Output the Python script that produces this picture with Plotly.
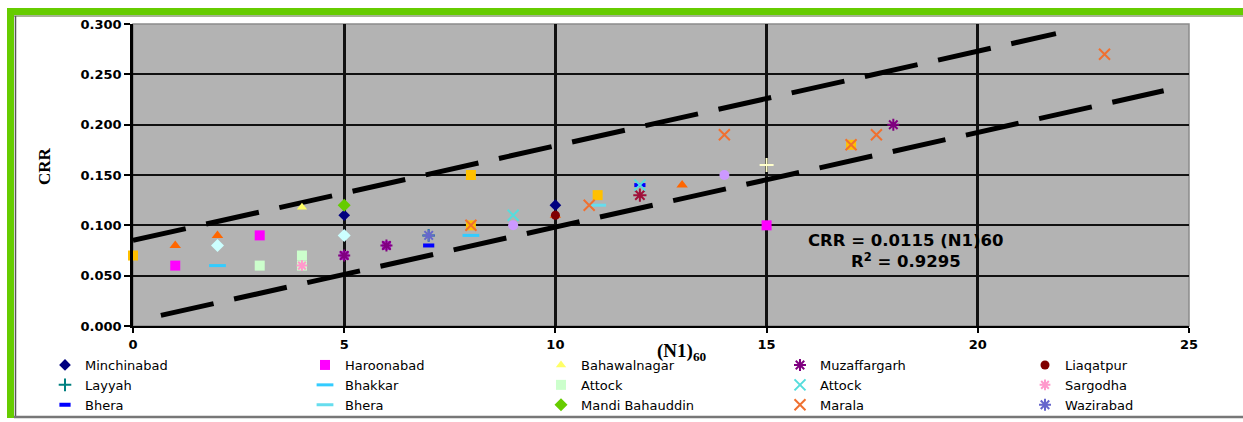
import plotly.graph_objects as go

# ---------------------------------------------------------------- data
# CRR against corrected SPT blow count (N1)60 for each site
minchinabad_x = [5, 10]
minchinabad_y = [0.110, 0.120]
haroonabad_x = [1, 3, 15]
haroonabad_y = [0.060, 0.090, 0.100]
bahawalnagar_x = [4]
bahawalnagar_y = [0.118]
muzaffargarh_x = [5, 6, 18]
muzaffargarh_y = [0.070, 0.080, 0.200]
liaqatpur_x = [10]
liaqatpur_y = [0.110]
layyah_x = [7]
layyah_y = [0.090]
bhakkar_x = [2, 8]
bhakkar_y = [0.060, 0.090]
attock_sq_x = [3, 4, 4]
attock_sq_y = [0.060, 0.070, 0.060]
attock_x_x = [9, 12]
attock_x_y = [0.110, 0.140]
sargodha_x = [4]
sargodha_y = [0.060]
bhera_a_x = [7, 12]
bhera_a_y = [0.080, 0.140]
bhera_b_x = [11]
bhera_b_y = [0.120]
mandi_x = [5]
mandi_y = [0.120]
marala_x = [8, 10.8, 14, 17, 17.6, 23]
marala_y = [0.100, 0.120, 0.190, 0.180, 0.190, 0.270]
wazirabad_x = [7]
wazirabad_y = [0.090]

# further sample groups plotted without legend entries
gold_x = [0, 8, 11, 17, 8]
gold_y = [0.070, 0.150, 0.130, 0.180, 0.100]
orange_tri_x = [1, 2, 10, 13]
orange_tri_y = [0.080, 0.090, 0.110, 0.140]
lavender_x = [9, 14]
lavender_y = [0.100, 0.150]
pale_plus_x = [15]
pale_plus_y = [0.160]
pale_diamond_x = [2, 5]
pale_diamond_y = [0.080, 0.090]
crimson_x = [12]
crimson_y = [0.130]
violet_sq_x = [5, 6]
violet_sq_y = [0.070, 0.080]

# bounding lines of the data band: y = slope * x + intercept
band_slope = 0.0094
upper_intercept = 0.085
upper_x_span = [0.0, 21.85]
lower_intercept = 0.0043
lower_x_span = [0.66, 24.4]

x_ticks = [0, 5, 10, 15, 20, 25]
y_ticks = [0.000, 0.050, 0.100, 0.150, 0.200, 0.250, 0.300]

eq_text = "CRR = 0.0115 (N1)60<br>R<sup>2</sup> = 0.9295"

# ---------------------------------------------------------------- layout geometry
W, H = 1243, 422
PL, PR, PT, PB = 133, 1189, 24, 326


def fx(p):
    """pixel column -> plot-area paper fraction"""
    return (p - PL) / (PR - PL)


def fy(p):
    """pixel row -> plot-area paper fraction"""
    return (PB - p) / (PB - PT)


fig = go.Figure()

# band lines
for icpt, span in ((upper_intercept, upper_x_span), (lower_intercept, lower_x_span)):
    fig.add_trace(go.Scatter(
        x=span, y=[band_slope * v + icpt for v in span], mode="lines",
        line=dict(color="black", width=5, dash="54px,21px"),
        showlegend=False, hoverinfo="skip"))


def add_pts(x, y, color, symbol, size, name=None, legend=None, lw=0, lcolor=None):
    fig.add_trace(go.Scatter(
        x=x, y=y, mode="markers", name=name, cliponaxis=False,
        showlegend=legend is not None, legend=legend or "legend",
        marker=dict(color=color, symbol=symbol, size=size,
                    line=dict(width=lw, color=lcolor or color))))


# unlabeled groups underneath
add_pts(gold_x, gold_y, "#FFC000", "square", 10)
add_pts(orange_tri_x, orange_tri_y, "#FF6600", "triangle-up", 10)
add_pts(lavender_x, lavender_y, "#CC99FF", "circle", 10)
add_pts(pale_diamond_x, pale_diamond_y, "#CCFFFF", "diamond", 10)
add_pts(violet_sq_x, violet_sq_y, "#B030D0", "square", 9)
add_pts(pale_plus_x, pale_plus_y, "#FFFFCC", "cross-thin-open", 10, lw=2)
add_pts(crimson_x, crimson_y, "#A0103A", "asterisk-open", 11, lw=2)

# legend columns (5 legends, 3 rows each)
add_pts(minchinabad_x, minchinabad_y, "#000080", "diamond", 9, "Minchinabad", "legend")
add_pts(layyah_x, layyah_y, "#008080", "cross-thin-open", 9, "Layyah", "legend", lw=2)
add_pts(bhera_a_x, bhera_a_y, "#0000FF", "line-ew-open", 8, "Bhera", "legend", lw=4)

add_pts(haroonabad_x, haroonabad_y, "#FF00FF", "square", 10, "Haroonabad", "legend2")
add_pts(bhakkar_x, bhakkar_y, "#33CCFF", "line-ew-open", 12, "Bhakkar", "legend2", lw=3)
add_pts(bhera_b_x, bhera_b_y, "#66DDEE", "line-ew-open", 12, "Bhera", "legend2", lw=3)

add_pts(bahawalnagar_x, bahawalnagar_y, "#FFFF66", "triangle-up", 9, "Bahawalnagar", "legend3")
add_pts(attock_sq_x, attock_sq_y, "#CCFFCC", "square", 10, "Attock", "legend3")
add_pts(mandi_x, mandi_y, "#66CC00", "diamond", 10, "Mandi Bahauddin", "legend3")

add_pts(muzaffargarh_x, muzaffargarh_y, "#800080", "asterisk-open", 10, "Muzaffargarh", "legend4", lw=2)
add_pts(attock_x_x, attock_x_y, "#55DDDD", "x-thin-open", 11, "Attock", "legend4", lw=2)
add_pts(marala_x, marala_y, "#F07030", "x-thin-open", 11, "Marala", "legend4", lw=2)

add_pts(liaqatpur_x, liaqatpur_y, "#800000", "circle", 9, "Liaqatpur", "legend5")
add_pts(sargodha_x, sargodha_y, "#FF99CC", "asterisk-open", 9, "Sargodha", "legend5", lw=2)
add_pts(wazirabad_x, wazirabad_y, "#6666CC", "asterisk-open", 10, "Wazirabad", "legend5", lw=2)

# ---------------------------------------------------------------- legends
legend_font = dict(family="DejaVu Sans", size=13, color="black")
marker_px = [67, 327, 563, 802, 1047]
legend_defs = {}
for i, mx in enumerate(marker_px):
    key = "legend" if i == 0 else f"legend{i + 1}"
    legend_defs[key] = dict(
        xref="container", yref="container",
        x=(mx - 22) / W, xanchor="left", y=1 - 350 / H, yanchor="top",
        orientation="v", bgcolor="rgba(0,0,0,0)", borderwidth=0,
        font=legend_font, tracegroupgap=0, itemwidth=30)

# ---------------------------------------------------------------- frame decoration
P = dict(xref="paper", yref="paper")
frame = [
    # green top and left bars
    dict(type="rect", x0=fx(7), x1=fx(W), y0=fy(8), y1=fy(15), fillcolor="#66CC00", line_width=0, **P),
    dict(type="rect", x0=fx(7), x1=fx(14), y0=fy(8), y1=fy(418), fillcolor="#66CC00", line_width=0, **P),
    # thin inner rules
    dict(type="line", x0=fx(14), x1=fx(W), y0=fy(16), y1=fy(16), line=dict(color="#8A9A70", width=1.5), **P),
    dict(type="line", x0=fx(15.5), x1=fx(15.5), y0=fy(16), y1=fy(418), line=dict(color="#555555", width=1.5), **P),
    dict(type="line", x0=fx(14), x1=fx(W), y0=fy(417), y1=fy(417), line=dict(color="#777777", width=2.5), **P),
    # plot area border
    dict(type="rect", x0=0, x1=1, y0=0, y1=1, line=dict(color="#8C8C8C", width=1.5), layer="below", **P),
]

annotations = [
    dict(text="CRR", x=fx(44), y=fy(166), xref="paper", yref="paper", showarrow=False,
         xanchor="center", yanchor="middle", textangle=-90,
         font=dict(family="Liberation Serif", size=17, color="black", weight="bold")),
    dict(text="(N1)<sub>60</sub>", x=fx(682), y=fy(352), xref="paper", yref="paper", showarrow=False,
         xanchor="center", yanchor="middle",
         font=dict(family="Liberation Serif", size=19, color="black", weight="bold")),
    dict(text=eq_text, x=18.3, y=0.0745, xref="x", yref="y", showarrow=False,
         xanchor="center", yanchor="middle", align="center",
         font=dict(family="DejaVu Sans", size=16.5, color="black", weight="bold")),
]

tick_font = dict(family="DejaVu Sans", size=13, color="black", weight="bold")

fig.update_layout(
    width=W, height=H,
    margin=dict(l=PL, r=W - PR, t=PT, b=H - PB, autoexpand=False),
    paper_bgcolor="white", plot_bgcolor="#B3B3B3",
    shapes=frame, annotations=annotations,
    **legend_defs,
    xaxis=dict(range=[0, 25], tickvals=x_ticks, ticktext=[str(v) for v in x_ticks],
               showgrid=True, gridcolor="#111111", gridwidth=2.5, zeroline=False,
               showline=True, linecolor="black", linewidth=2,
               ticks="outside", ticklen=5, tickwidth=2, tickcolor="black",
               tickfont=tick_font, fixedrange=True),
    yaxis=dict(range=[0, 0.3], tickvals=y_ticks, tickformat=".3f",
               showgrid=True, gridcolor="#111111", gridwidth=1.8, zeroline=False,
               showline=True, linecolor="black", linewidth=2.5,
               ticks="outside", ticklen=6, tickwidth=2, tickcolor="black",
               tickfont=tick_font, fixedrange=True),
)

fig.write_html("out.html")
